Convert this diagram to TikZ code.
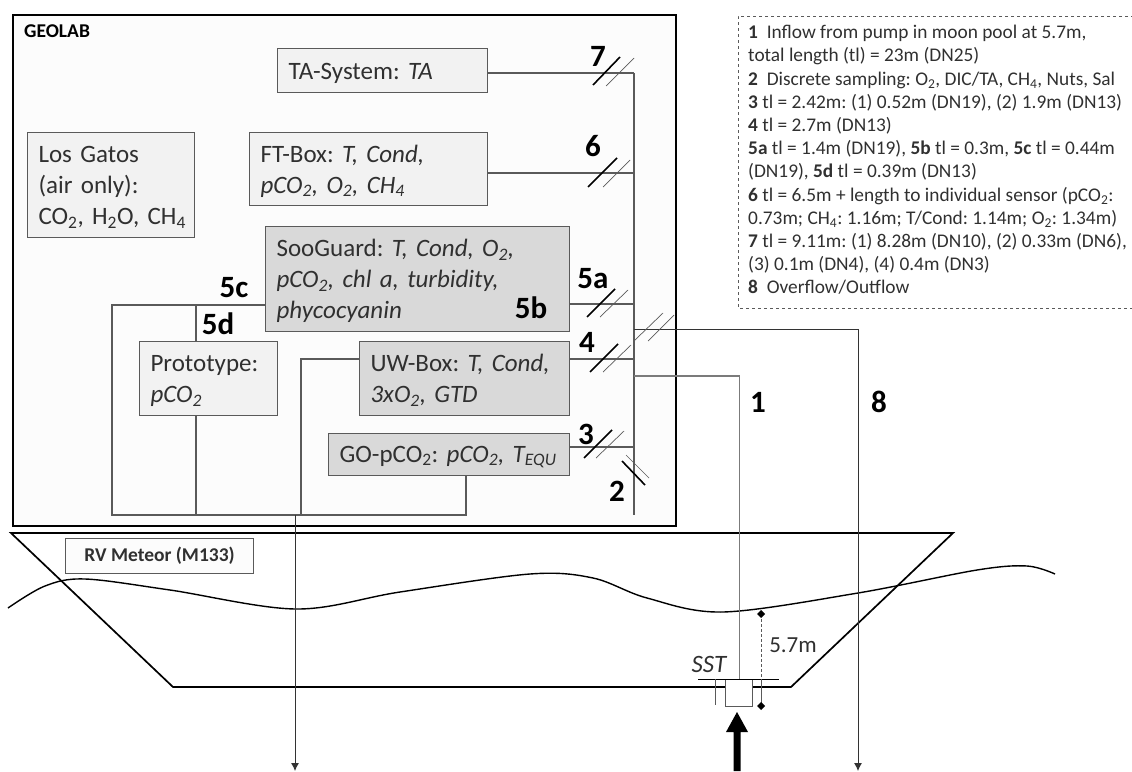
\documentclass[tikz,border=0pt]{standalone}
\usepackage{fontspec}
\setmainfont{Carlito}
\usepackage{tikz}
\usetikzlibrary{arrows.meta}

\definecolor{linegray}{HTML}{5A5A5A}
\definecolor{textgray}{HTML}{303030}
\definecolor{boxlight}{HTML}{F2F2F2}
\definecolor{boxdark}{HTML}{D9D9D9}

\newcommand{\low}[1]{\textsubscript{#1}}

\tikzset{
    unitbox/.style={draw=linegray, line width=1.1pt, anchor=north west, inner xsep=11pt, inner ysep=0pt,
        align=left, text=textgray, font=\fontsize{25}{31}\selectfont, text height=21pt},
    lightbox/.style={unitbox, fill=boxlight},
    darkbox/.style={unitbox, fill=boxdark},
    pipe/.style={draw=linegray, line width=1.1pt},
    hull/.style={black, line width=1.7pt},
    thickslash/.style={black, line width=1.6pt},
    thinslash/.style={linegray, line width=0.7pt},
    numlabel/.style={font=\fontsize{31}{32}\selectfont\bfseries, inner sep=0pt},
    drain/.style={black!80, line width=0.9pt, -{Latex[length=8pt,width=8pt]}}
}

\begin{document}
\frenchspacing
\begin{tikzpicture}[x=1pt, y=-1pt]
        \useasboundingbox (0,0) rectangle (1132,771);

        % Coordinates
        \coordinate (LabTL) at (13,15);
        \coordinate (LabBR) at (676,526);
        \coordinate (J7) at (634,73);
        \coordinate (J6) at (634,173);
        \coordinate (J5a) at (634,304);
        \coordinate (J8) at (634,329);
        \coordinate (J4) at (634,359);
        \coordinate (J1) at (634,376);
        \coordinate (J3) at (634,447);
        \coordinate (J2) at (634,515);
        \coordinate (C5) at (112,305);
        \coordinate (C5d) at (196,305);
        \coordinate (BL) at (112,515);
        \coordinate (BP) at (196,515);
        \coordinate (BU) at (301,515);
        \coordinate (BO) at (295,515);
        \coordinate (BG) at (466,515);
        \coordinate (UWc) at (301,359);
        \coordinate (OutA) at (295,771);
        \coordinate (OutB) at (858,771);
        \coordinate (HA) at (11,533);
        \coordinate (HB) at (953,533);
        \coordinate (HC) at (791,687);
        \coordinate (HD) at (173,687);
        \coordinate (SL) at (698,679);
        \coordinate (SR) at (779,679);
        \coordinate (ST) at (715,679);
        \coordinate (SE) at (715,705);
        \coordinate (DT) at (761,614);
        \coordinate (DM) at (761,679);
        \coordinate (DB) at (761,706);

        % Frame and legend
        \draw[black, line width=2pt, fill=white!99!black] (LabTL) rectangle (LabBR);
        \draw[linegray, line width=0.8pt, dashed] (1140,16) -- (738,16) -- (738,308) -- (1140,308);
        \node[anchor=west, inner sep=0pt, font=\fontsize{19.5}{22}\selectfont\bfseries] (geolab) at (24,31) {GEOLAB};
        \node[anchor=north west, inner sep=0pt, align=left, text=textgray, font=\fontsize{19.35}{23.2}\selectfont] (legend) at (748,25) {%
            \textbf{1}~ Inflow from pump in moon pool at 5.7m,\\
            total length (tl) = 23m (DN25)\\
            \textbf{2}~ Discrete sampling: O\low{2}, DIC/TA, CH\low{4}, Nuts, Sal\\
            \textbf{3} tl = 2.42m: (1) 0.52m (DN19), (2) 1.9m (DN13)\\
            \textbf{4} tl = 2.7m (DN13)\\
            \textbf{5a} tl = 1.4m (DN19), \textbf{5b} tl = 0.3m, \textbf{5c} tl = 0.44m\\
            (DN19), \textbf{5d} tl = 0.39m (DN13)\\
            \textbf{6} tl = 6.5m + length to individual sensor (pCO\low{2}:\\
            0.73m; CH\low{4}: 1.16m; T/Cond: 1.14m; O\low{2}: 1.34m)\\
            \textbf{7} tl = 9.11m: (1) 8.28m (DN10), (2) 0.33m (DN6),\\
            (3) 0.1m (DN4), (4) 0.4m (DN3)\\
            \textbf{8}~ Overflow/Outflow};

        % Boxes
        \node[lightbox, minimum width=210pt, minimum height=44pt, text width=188pt] (tasys) at (277,48) {TA-System: \textit{TA}};
        \node[lightbox, minimum width=238pt, minimum height=73pt, text width=216pt] (ftbox) at (249,132) {FT-Box: \textit{T, Cond,}\\\textit{pCO\low{2}, O\low{2}, CH\low{4}}};
        \node[lightbox, minimum width=167pt, minimum height=105pt, text width=145pt] (gatos) at (27,132) {Los Gatos\\(air only):\\\mbox{CO\low{2}, H\low{2}O, CH\low{4}}};
        \node[darkbox, minimum width=304pt, minimum height=105pt, text width=282pt] (sooguard) at (265,226) {SooGuard: \textit{T, Cond, O\low{2},}\\\textit{pCO\low{2}, chl a, turbidity,}\\\textit{phycocyanin}};
        \node[lightbox, minimum width=138pt, minimum height=74pt, text width=116pt] (proto) at (139,341) {Prototype:\\\textit{pCO\low{2}}};
        \node[darkbox, minimum width=210pt, minimum height=74pt, text width=188pt] (uwbox) at (359,341) {UW-Box: \textit{T, Cond,}\\\textit{3xO\low{2}, GTD}};
        \node[darkbox, minimum width=241pt, minimum height=42pt, text width=219pt] (gobox) at (328,433) {GO-pCO\low{2}: \textit{pCO\low{2}, T\low{EQU}}};

        % Pipes
        \draw[pipe] (J7) -- (J2);
        \draw[pipe] (tasys.east |- J7) -- (J7);
        \draw[pipe] (ftbox.east |- J6) -- (J6);
        \draw[pipe] (sooguard.east |- J5a) -- (J5a);
        \draw[pipe] (uwbox.east |- J4) -- (J4);
        \draw[pipe] (gobox.east |- J3) -- (J3);
        \draw[pipe] (sooguard.west |- C5) -- (C5) -- (BL) -- (BG) -- (gobox.south -| BG);
        \draw[pipe] (C5d) -- (proto.north -| C5d);
        \draw[pipe] (proto.south -| BP) -- (BP);
        \draw[pipe] (uwbox.west |- UWc) -- (UWc) -- (BU);

        % Ship
        \draw[hull] (HB) -- (HA) -- (HD) -- (HC) -- cycle;
        \node[draw=linegray, line width=1.1pt, minimum width=188pt, minimum height=35pt, anchor=north west, inner sep=0pt, font=\fontsize{19.5}{22}\selectfont\bfseries, text=textgray, fill=white!99!black] (meteor) at (65,538) {RV Meteor (M133)};
        \draw[black, line width=1.4pt] plot[smooth, tension=0.55] coordinates {(8,608) (45,586) (85,579) (170,590) (296,609) (400,592) (530,574) (593,578) (647,598) (723,612) (858,593) (977,570) (1027,566) (1055,574)};

        % Sampling tube
        \node[draw=linegray, line width=1.1pt, fill=white, minimum width=27pt, minimum height=27pt, anchor=north west, inner sep=0pt] (pump) at (725,679) {};
        \draw[black, line width=0.8pt] (SL) -- (SR);
        \draw[linegray, line width=1pt] (ST) -- (SE);
        \draw[pipe, linegray!80] (J1) -| (pump.north);
        \draw[drain] (J8) -| (OutB);
        \draw[drain] (BO) -- (OutA);
        \draw[linegray, line width=1pt, densely dashed] (DT) -- (DM);
        \draw[linegray, line width=1pt] (DM) -- (DB);
        \fill[black] (DT) +(-4,0) -- +(0,-4) -- +(4,0) -- +(0,4) -- cycle;
        \fill[black] (DB) +(-4,0) -- +(0,-4) -- +(4,0) -- +(0,4) -- cycle;
        \fill[black] (733.5,771) -- (733.5,732) -- (726,732) -- (737,712) -- (748,732) -- (740.5,732) -- (740.5,771) -- cycle;

        % Slashes
        \draw[thickslash] (593,85) -- (620,57);
        \draw[thinslash] (606,86) -- (634,58);
        \draw[thickslash] (588,187) -- (617,158);
        \draw[thinslash] (603,187) -- (630,160);
        \draw[thickslash] (587,317) -- (615,289);
        \draw[thinslash] (600,317) -- (628,290);
        \draw[thickslash] (590,372) -- (618,344);
        \draw[thinslash] (603,372) -- (631,345);
        \draw[thickslash] (584,458) -- (612,430);
        \draw[thinslash] (596,458) -- (624,431);
        \draw[thickslash] (622,461) -- (645,485);
        \draw[thinslash] (626,455) -- (649,478);
        \draw[thinslash] (635,340) -- (663,313);
        \draw[thinslash] (648,341) -- (674,315);

        % Labels
        \node[numlabel] (n7) at (598,56) {7};
        \node[numlabel] (n6) at (593,146) {6};
        \node[numlabel] (n5a) at (593,279) {5a};
        \node[numlabel] (n5b) at (531,308) {5b};
        \node[numlabel] (n5c) at (234,288) {5c};
        \node[numlabel] (n5d) at (218,324) {5d};
        \node[numlabel] (n4) at (587,342) {4};
        \node[numlabel] (n3) at (586,434) {3};
        \node[numlabel] (n2) at (617,491) {2};
        \node[numlabel] (n1) at (758,402) {1};
        \node[numlabel] (n8) at (879,402) {8};
        \node[inner sep=0pt, text=textgray, font=\fontsize{25}{28}\selectfont\itshape] (sst) at (709,664) {SST};
        \node[inner sep=0pt, text=textgray, font=\fontsize{23}{26}\selectfont] (depth) at (793,645) {5.7m};
\end{tikzpicture}
\end{document}
